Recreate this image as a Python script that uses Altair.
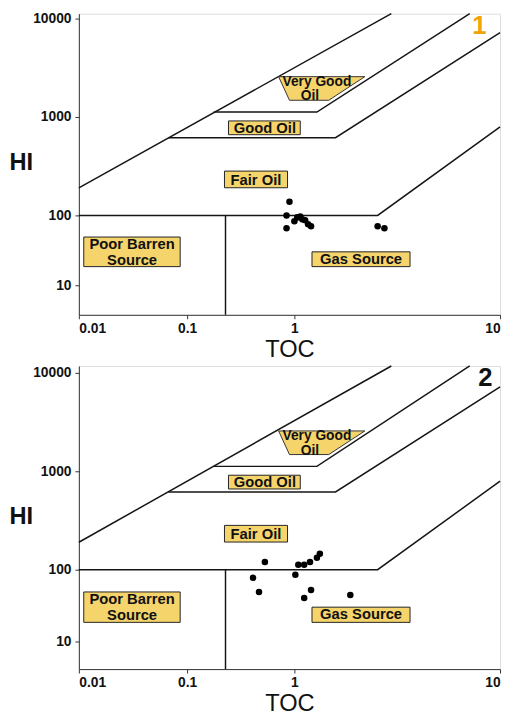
import altair as alt
import pandas as pd

# ---------------- scales (piecewise log, as in the scanned diagram) -------------
X_DOMAIN = [0.01, 0.1, 1, 10]
X_RANGE = [0, 110, 219, 428]
Y_DOMAIN = [5, 10, 100, 1000, 10000, 12000]
Y_RANGE_1 = [306, 276, 205, 105, 5, 0]
Y_RANGE_2 = [308, 280, 207, 107, 7, 0]
X_TICKS = [0.01, 0.1, 1, 10]
Y_TICKS = [10, 100, 1000, 10000]

# ---------------- boundary lines of the diagram --------------------------------
LINE_ID = ["outer", "outer",
           "good", "good", "good",
           "vgood", "vgood", "vgood",
           "fair", "fair", "fair",
           "toc", "toc"]
LINE_TOC = [0.01, 2.96,
            0.067, 1.585, 10,
            0.177, 1.287, 7.12,
            0.01, 2.54, 10,
            0.228, 0.228]
LINE_HI = [190, 12000,
           617, 617, 7200,
           1122, 1122, 12000,
           100, 100, 794,
           100, 5]

# ---------------- labelled boxes -------------------------------------------------
BOX_TEXT = ["Good Oil", "Fair Oil", "Poor Barren\nSource", "Gas Source"]
BOX_TOC_LO = [0.243, 0.223, 0.0111, 1.218]
BOX_TOC_HI = [1.068, 0.863, 0.0863, 3.65]
BOX_HI_LO = [661, 191, 18.5, 18.5]
BOX_HI_HI = [912, 282, 49, 30.1]
BOX_TEXT_TOC = [0.531, 0.438, 0.031, 2.11]
BOX_TEXT_HI = [776, 229, 39, 24]

# "Very Good Oil" trapezoid
VG_HI = [1479, 2570]
VG_TOC_LEFT = [0.9, 0.713]
VG_TOC_RIGHT = [1.47, 2.2]
VG_TEXT = ["Very Good", "Oil"]
VG_TEXT_TOC = [1.287, 1.19]
VG_TEXT_HI = [2291, 1622]

# ---------------- samples ---------------------------------------------------------
P1_TOC = [0.90, 0.845, 0.845, 1.0, 1.033, 1.068, 1.092, 1.128, 1.166, 1.205, 2.54, 2.74]
P1_HI = [138, 100, 65.6, 82.3, 93.7, 96.8, 87.8, 85, 74.7, 70, 70, 65.6]
P2_TOC = [0.531, 0.412, 0.468, 1.011, 1.045, 1.116, 1.191, 1.287, 1.33, 1.205, 1.116, 1.87]
P2_HI = [120, 77.1, 49, 85, 112, 112, 120, 132, 145, 52.3, 40.4, 44.5]

PANEL_NUM = ["1", "2"]
PANEL_COLOR = ["#f0a30a", "#111111"]
PANEL_TOC = [7.94, 8.48]
PANEL_HI = [8318, 8913]

FONT = "Liberation Sans"
BOX_FILL = "#f5d46c"

xscale = alt.Scale(type="log", domain=X_DOMAIN, range=X_RANGE, nice=False, zero=False)

xaxis = alt.Axis(values=X_TICKS, format="~g", title="TOC", grid=False,
                 labelFont=FONT, labelFontWeight="bold", labelFontSize=14,
                 labelColor="#111", labelPadding=3, tickSize=4, tickColor="#333",
                 domainColor="#333", titleFont=FONT, titleFontSize=24,
                 titleFontWeight="normal", titleColor="#111", titlePadding=2,
                 labelFlush=True)


def panel(i, ptoc, phi, yrange, title_y):
    yscale = alt.Scale(type="log", domain=Y_DOMAIN, range=yrange, nice=False, zero=False)
    yaxis = alt.Axis(values=Y_TICKS, format="~g", title="HI", grid=False,
                     labelFont=FONT, labelFontWeight="bold", labelFontSize=14,
                     labelColor="#111", labelPadding=4, tickSize=4, tickColor="#333",
                     domainColor="#333", titleFont=FONT, titleFontSize=24,
                     titleFontWeight="bold", titleColor="#111", titleAngle=0,
                     titleAlign="left", titleBaseline="middle", titleX=-71,
                     titleY=title_y)

    def X(f="x"):
        return alt.X(f"{f}:Q", scale=xscale, axis=xaxis)

    def Y(f="y"):
        return alt.Y(f"{f}:Q", scale=yscale, axis=yaxis)

    lines_df = pd.DataFrame({"id": LINE_ID, "x": LINE_TOC, "y": LINE_HI,
                             "seq": list(range(len(LINE_ID)))})
    boxes_df = pd.DataFrame({"label": BOX_TEXT, "x": BOX_TOC_LO, "x2": BOX_TOC_HI,
                             "y": BOX_HI_LO, "y2": BOX_HI_HI,
                             "tx": BOX_TEXT_TOC, "ty": BOX_TEXT_HI})
    vg_df = pd.DataFrame({"y": VG_HI, "x": VG_TOC_LEFT, "x2": VG_TOC_RIGHT})
    vgt_df = pd.DataFrame({"label": VG_TEXT, "x": VG_TEXT_TOC, "y": VG_TEXT_HI})
    pts = pd.DataFrame({"x": ptoc, "y": phi})
    num = pd.DataFrame({"label": [PANEL_NUM[i]], "x": [PANEL_TOC[i]], "y": [PANEL_HI[i]]})

    lines = alt.Chart(lines_df).mark_line(color="#151515", strokeWidth=1.5).encode(
        x=X(), y=Y(), detail="id:N", order="seq:Q")
    rects = alt.Chart(boxes_df).mark_rect(fill=BOX_FILL, stroke="#222", strokeWidth=1).encode(
        x=X(), x2="x2:Q", y=Y(), y2="y2:Q")
    rtext = alt.Chart(boxes_df).mark_text(font=FONT, fontWeight="bold", fontSize=15,
                                          color="#111", lineBreak="\n", lineHeight=16,
                                          baseline="middle", align="center").encode(
        x=X("tx"), y=Y("ty"), text="label:N")
    trap = alt.Chart(vg_df).mark_area(orient="horizontal", fill=BOX_FILL, stroke="#333",
                                      strokeWidth=1).encode(
        y=Y(), x=X(), x2="x2:Q")
    vgtext = alt.Chart(vgt_df).mark_text(font=FONT, fontWeight="bold", fontSize=14,
                                         color="#111", baseline="middle",
                                         align="center").encode(
        x=X(), y=Y(), text="label:N")
    dots = alt.Chart(pts).mark_circle(size=44, color="#000", opacity=1).encode(x=X(), y=Y())
    numt = alt.Chart(num).mark_text(font=FONT, fontSize=26, fontWeight="bold",
                                    color=PANEL_COLOR[i], baseline="middle",
                                    align="center").encode(
        x=X(), y=Y(), text="label:N")
    return alt.layer(lines, trap, rects, rtext, vgtext, dots, numt).properties(
        width=428, height=yrange[0])


chart = alt.vconcat(
    panel(0, P1_TOC, P1_HI, Y_RANGE_1, 151),
    panel(1, P2_TOC, P2_HI, Y_RANGE_2, 153),
    spacing=0,
).properties(
    padding={"left": 0, "top": -4, "right": 0, "bottom": 0}
).configure_view(stroke="#8a8a8a", strokeWidth=1).configure(background="white")

chart.save("out.html", embed_options={"renderer": "svg", "actions": False})
